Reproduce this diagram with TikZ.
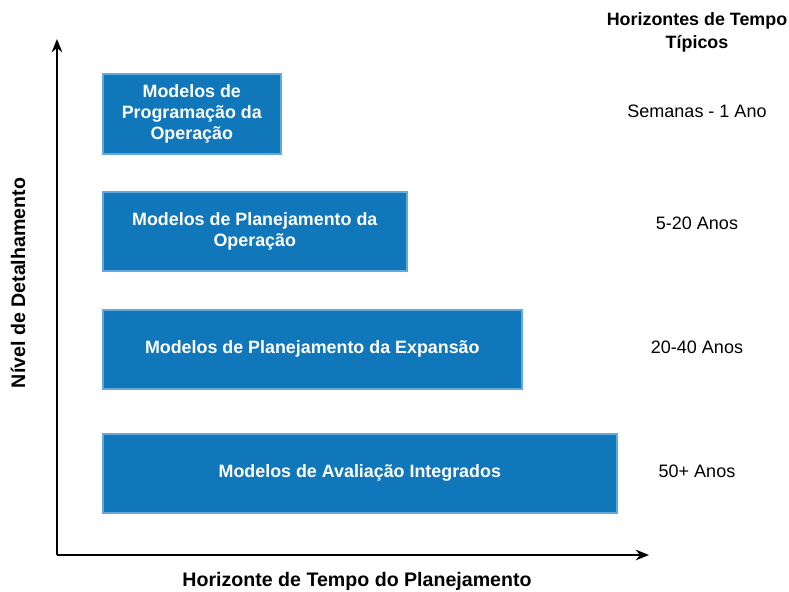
\documentclass[tikz,border=0pt]{standalone}
\usepackage{fontspec}
\setmainfont{Liberation Sans}
\definecolor{BoxBlue}{RGB}{16,119,187}
\definecolor{EdgeBlue}{RGB}{100,168,220}
\usetikzlibrary{positioning, calc, arrows.meta}

\begin{document}
\begin{tikzpicture}[x=0.75pt,y=-0.75pt,
    modelbox/.style={draw=EdgeBlue,line width=1.2pt,fill=BoxBlue,text=white,
        font=\bfseries\fontsize{13.4}{16}\selectfont,align=center,anchor=north west,inner sep=0pt},
    horizon/.style={font=\fontsize{13.5}{16}\selectfont},
    axislabel/.style={font=\bfseries\fontsize{14.7}{17}\selectfont}]

    \useasboundingbox (0,0) rectangle (789,592);

    \coordinate (O) at (57,555);  % origin of the axes
    \coordinate (ytop) at (57,39);
    \coordinate (xend) at (649,555);

    % boxes
    \node[modelbox,minimum width=178*0.75pt,minimum height=80*0.75pt] (prog) at (102,73)
        {Modelos de\\Programação da\\Operação};
    \node[modelbox,minimum width=304*0.75pt,minimum height=79*0.75pt] (oper) at (102,191)
        {Modelos de Planejamento da\\Operação};
    \node[modelbox,minimum width=419*0.75pt,minimum height=79*0.75pt] (expa) at (102,309)
        {Modelos de Planejamento da Expansão};
    \node[modelbox,minimum width=514*0.75pt,minimum height=79*0.75pt] (aval) at (102,433)
        {Modelos de Avaliação Integrados};

    % time horizons
    \node[horizon,font=\bfseries\fontsize{13.4}{17.3}\selectfont,align=center] (title) at (697,32)
        {Horizontes de Tempo\\Típicos};
    \node[horizon] (h1) at (697,111) {Semanas - 1 Ano};
    \node[horizon] (h2) at (697,223) {5-20 Anos};
    \node[horizon] (h3) at (697,347) {20-40 Anos};
    \node[horizon] (h4) at (697,471) {50+ Anos};

    % axes
    \draw[line width=1.3pt,-{Stealth[length=10pt,width=8pt]}] (O) -- (ytop);
    \draw[line width=1.3pt,-{Stealth[length=10pt,width=8pt]}] (O) -- (xend);

    \node[axislabel] (xlab) at (357,581) {Horizonte de Tempo do Planejamento};
    \node[axislabel,rotate=90] (ylab) at (18,283) {Nível de Detalhamento};

\end{tikzpicture}
\end{document}
